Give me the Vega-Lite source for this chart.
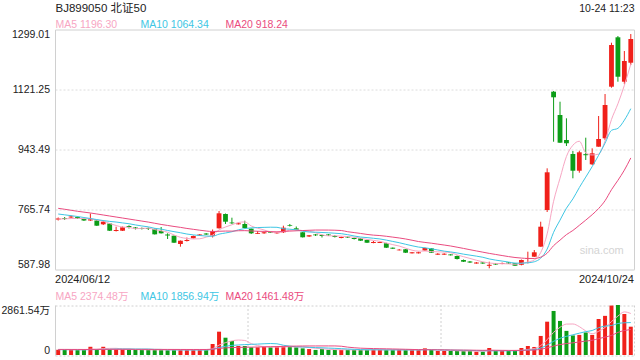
{
"$schema": "https://vega.github.io/schema/vega-lite/v6.json",
"width": 579, "height": 325.5,
"autosize": {"type": "none"},
"padding": {"left": 55, "top": 29.5, "right": 6, "bottom": 5},
"background": "#ffffff",
"config": {"view": {"stroke": null}, "font": "Liberation Sans", "axis": {"labelFont": "Liberation Sans", "titleFont": "Liberation Sans, Noto Sans CJK SC"}},
"datasets": {
"k": [
{"date":"2024/06/12","open":735.6,"high":741.6,"low":732.7,"close":738.6,"vol":300,"ma5":737.0,"ma10":751.9,"ma20":768.8,"vma5":310,"vma10":305,"vma20":320},
{"date":"2024/06/13","open":740.1,"high":743.0,"low":734.2,"close":737.1,"vol":290,"ma5":737.5,"ma10":749.5,"ma20":766.0,"vma5":310,"vma10":305,"vma20":320},
{"date":"2024/06/14","open":741.6,"high":747.5,"low":740.1,"close":744.5,"vol":300,"ma5":738.5,"ma10":747.0,"ma20":763.0,"vma5":300,"vma10":305,"vma20":318},
{"date":"2024/06/17","open":743.0,"high":744.5,"low":737.1,"close":738.6,"vol":290,"ma5":739.0,"ma10":744.5,"ma20":760.0,"vma5":300,"vma10":300,"vma20":318},
{"date":"2024/06/18","open":737.1,"high":738.6,"low":731.2,"close":732.7,"vol":300,"ma5":738.3,"ma10":741.5,"ma20":757.5,"vma5":296,"vma10":300,"vma20":316},
{"date":"2024/06/19","open":732.7,"high":753.4,"low":731.2,"close":736.2,"vol":470,"ma5":737.8,"ma10":738.5,"ma20":755.0,"vma5":330,"vma10":305,"vma20":318},
{"date":"2024/06/20","open":732.7,"high":734.2,"low":716.4,"close":717.3,"vol":320,"ma5":733.9,"ma10":735.5,"ma20":752.0,"vma5":336,"vma10":310,"vma20":320},
{"date":"2024/06/21","open":721.4,"high":732.7,"low":719.3,"close":729.1,"vol":470,"ma5":730.8,"ma10":732.5,"ma20":749.0,"vma5":370,"vma10":320,"vma20":322},
{"date":"2024/06/24","open":723.8,"high":725.3,"low":701.5,"close":702.4,"vol":330,"ma5":723.5,"ma10":730.0,"ma20":746.0,"vma5":378,"vma10":325,"vma20":324},
{"date":"2024/06/25","open":701.5,"high":714.3,"low":700.1,"close":704.5,"vol":320,"ma5":717.9,"ma10":728.1,"ma20":743.0,"vma5":382,"vma10":339,"vma20":325},
{"date":"2024/06/26","open":702.4,"high":714.9,"low":701.5,"close":712.5,"vol":320,"ma5":713.2,"ma10":725.5,"ma20":740.0,"vma5":352,"vma10":341,"vma20":326},
{"date":"2024/06/27","open":716.4,"high":718.4,"low":708.9,"close":713.4,"vol":300,"ma5":712.4,"ma10":723.1,"ma20":737.0,"vma5":348,"vma10":342,"vma20":326},
{"date":"2024/06/28","open":711.9,"high":713.4,"low":706.0,"close":708.9,"vol":290,"ma5":708.3,"ma10":719.6,"ma20":734.0,"vma5":312,"vma10":341,"vma20":325},
{"date":"2024/07/01","open":710.4,"high":711.9,"low":706.0,"close":707.5,"vol":290,"ma5":709.4,"ma10":716.5,"ma20":731.0,"vma5":304,"vma10":341,"vma20":324},
{"date":"2024/07/02","open":710.4,"high":711.9,"low":704.5,"close":707.5,"vol":290,"ma5":710.0,"ma10":713.9,"ma20":728.0,"vma5":298,"vma10":340,"vma20":323},
{"date":"2024/07/03","open":707.5,"high":708.9,"low":691.2,"close":691.7,"vol":290,"ma5":705.8,"ma10":709.5,"ma20":724.5,"vma5":292,"vma10":322,"vma20":321},
{"date":"2024/07/04","open":701.5,"high":713.4,"low":694.1,"close":694.7,"vol":290,"ma5":702.1,"ma10":707.2,"ma20":721.0,"vma5":290,"vma10":319,"vma20":320},
{"date":"2024/07/05","open":691.2,"high":694.7,"low":677.8,"close":688.2,"vol":280,"ma5":697.9,"ma10":703.1,"ma20":718.0,"vma5":288,"vma10":300,"vma20":319},
{"date":"2024/07/08","open":687.6,"high":688.2,"low":665.9,"close":666.8,"vol":290,"ma5":689.8,"ma10":699.6,"ma20":715.0,"vma5":288,"vma10":296,"vma20":318},
{"date":"2024/07/09","open":663.0,"high":673.4,"low":655.0,"close":672.8,"vol":300,"ma5":682.8,"ma10":696.4,"ma20":712.3,"vma5":290,"vma10":294,"vma20":317},
{"date":"2024/07/10","open":671.9,"high":682.3,"low":670.4,"close":674.9,"vol":290,"ma5":679.5,"ma10":692.6,"ma20":709.1,"vma5":290,"vma10":291,"vma20":316},
{"date":"2024/07/11","open":679.9,"high":688.2,"low":679.3,"close":686.7,"vol":290,"ma5":677.9,"ma10":690.0,"ma20":706.5,"vma5":290,"vma10":290,"vma20":316},
{"date":"2024/07/12","open":688.2,"high":692.6,"low":686.7,"close":691.2,"vol":290,"ma5":678.5,"ma10":688.2,"ma20":703.9,"vma5":292,"vma10":290,"vma20":316},
{"date":"2024/07/15","open":694.1,"high":695.6,"low":689.7,"close":691.2,"vol":290,"ma5":683.4,"ma10":686.6,"ma20":701.5,"vma5":292,"vma10":290,"vma20":316},
{"date":"2024/07/16","open":687.6,"high":706.0,"low":682.3,"close":701.5,"vol":630,"ma5":689.1,"ma10":686.0,"ma20":700.0,"vma5":358,"vma10":324,"vma20":332},
{"date":"2024/07/17","open":709.5,"high":760.8,"low":708.9,"close":754.0,"vol":1335,"ma5":704.9,"ma10":692.2,"ma20":700.8,"vma5":567,"vma10":429,"vma20":375},
{"date":"2024/07/18","open":751.9,"high":753.4,"low":722.3,"close":729.1,"vol":990,"ma5":713.4,"ma10":695.6,"ma20":701.4,"vma5":707,"vma10":499,"vma20":409},
{"date":"2024/07/19","open":726.7,"high":741.0,"low":722.3,"close":724.4,"vol":800,"ma5":720.0,"ma10":699.3,"ma20":701.2,"vma5":809,"vma10":551,"vma20":425},
{"date":"2024/07/22","open":721.4,"high":726.7,"low":720.8,"close":724.4,"vol":515,"ma5":726.7,"ma10":705.0,"ma20":702.3,"vma5":854,"vma10":573,"vma20":435},
{"date":"2024/07/23","open":722.3,"high":732.1,"low":708.9,"close":710.4,"vol":515,"ma5":728.5,"ma10":708.8,"ma20":702.6,"vma5":831,"vma10":595,"vma20":444},
{"date":"2024/07/24","open":708.4,"high":708.9,"low":692.6,"close":694.7,"vol":440,"ma5":716.6,"ma10":710.8,"ma20":701.7,"vma5":652,"vma10":610,"vma20":450},
{"date":"2024/07/25","open":693.2,"high":701.5,"low":692.6,"close":695.6,"vol":440,"ma5":709.9,"ma10":711.7,"ma20":700.8,"vma5":542,"vma10":625,"vma20":457},
{"date":"2024/07/26","open":694.7,"high":698.6,"low":693.2,"close":697.7,"vol":470,"ma5":704.6,"ma10":712.3,"ma20":700.3,"vma5":476,"vma10":643,"vma20":466},
{"date":"2024/07/29","open":698.6,"high":700.1,"low":695.6,"close":696.5,"vol":440,"ma5":699.0,"ma10":712.8,"ma20":699.7,"vma5":461,"vma10":658,"vma20":474},
{"date":"2024/07/30","open":694.7,"high":698.6,"low":693.2,"close":697.7,"vol":470,"ma5":696.4,"ma10":712.5,"ma20":699.2,"vma5":452,"vma10":642,"vma20":483},
{"date":"2024/07/31","open":697.7,"high":717.3,"low":695.6,"close":711.3,"vol":500,"ma5":699.8,"ma10":708.2,"ma20":700.2,"vma5":464,"vma10":558,"vma20":493},
{"date":"2024/08/01","open":718.4,"high":722.3,"low":714.9,"close":716.4,"vol":470,"ma5":703.9,"ma10":706.9,"ma20":701.3,"vma5":470,"vma10":506,"vma20":502},
{"date":"2024/08/02","open":709.5,"high":714.9,"low":703.0,"close":704.5,"vol":440,"ma5":705.3,"ma10":704.9,"ma20":702.1,"vma5":464,"vma10":470,"vma20":510},
{"date":"2024/08/05","open":697.7,"high":698.6,"low":682.3,"close":682.9,"vol":380,"ma5":702.6,"ma10":700.8,"ma20":702.9,"vma5":452,"vma10":457,"vma20":515},
{"date":"2024/08/06","open":685.2,"high":689.7,"low":683.7,"close":688.8,"vol":340,"ma5":700.8,"ma10":698.6,"ma20":703.7,"vma5":426,"vma10":439,"vma20":517},
{"date":"2024/08/07","open":691.2,"high":692.6,"low":686.7,"close":688.8,"vol":290,"ma5":696.3,"ma10":698.0,"ma20":704.4,"vma5":384,"vma10":424,"vma20":517},
{"date":"2024/08/08","open":689.7,"high":690.9,"low":682.3,"close":686.7,"vol":340,"ma5":690.3,"ma10":697.1,"ma20":704.4,"vma5":358,"vma10":414,"vma20":519},
{"date":"2024/08/09","open":691.2,"high":692.6,"low":686.7,"close":688.8,"vol":290,"ma5":687.2,"ma10":696.2,"ma20":704.3,"vma5":328,"vma10":396,"vma20":519},
{"date":"2024/08/12","open":686.7,"high":689.7,"low":682.3,"close":683.7,"vol":290,"ma5":687.4,"ma10":695.0,"ma20":703.9,"vma5":310,"vma10":381,"vma20":519},
{"date":"2024/08/13","open":680.8,"high":685.2,"low":679.9,"close":683.7,"vol":290,"ma5":686.3,"ma10":693.6,"ma20":703.0,"vma5":300,"vma10":363,"vma20":502},
{"date":"2024/08/14","open":684.6,"high":686.0,"low":680.8,"close":682.3,"vol":290,"ma5":685.0,"ma10":690.7,"ma20":699.4,"vma5":300,"vma10":342,"vma20":450},
{"date":"2024/08/15","open":680.8,"high":682.3,"low":676.3,"close":677.8,"vol":290,"ma5":683.3,"ma10":686.8,"ma20":696.9,"vma5":290,"vma10":324,"vma20":415},
{"date":"2024/08/16","open":679.9,"high":680.8,"low":671.9,"close":672.8,"vol":290,"ma5":680.1,"ma10":683.6,"ma20":694.3,"vma5":290,"vma10":309,"vma20":390},
{"date":"2024/08/19","open":674.9,"high":676.3,"low":665.9,"close":666.8,"vol":290,"ma5":676.7,"ma10":682.0,"ma20":691.4,"vma5":290,"vma10":300,"vma20":378},
{"date":"2024/08/20","open":665.9,"high":671.9,"low":665.1,"close":668.9,"vol":320,"ma5":673.7,"ma10":680.0,"ma20":689.3,"vma5":296,"vma10":298,"vma20":369},
{"date":"2024/08/21","open":666.0,"high":670.4,"low":665.9,"close":668.9,"vol":290,"ma5":671.0,"ma10":678.0,"ma20":688.0,"vma5":296,"vma10":298,"vma20":361},
{"date":"2024/08/22","open":665.1,"high":666.5,"low":651.1,"close":652.0,"vol":290,"ma5":665.9,"ma10":674.6,"ma20":685.9,"vma5":296,"vma10":293,"vma20":354},
{"date":"2024/08/23","open":652.0,"high":652.6,"low":648.2,"close":649.1,"vol":290,"ma5":661.1,"ma10":670.6,"ma20":683.4,"vma5":296,"vma10":293,"vma20":345},
{"date":"2024/08/26","open":644.3,"high":648.2,"low":643.7,"close":646.1,"vol":290,"ma5":657.0,"ma10":666.8,"ma20":680.9,"vma5":296,"vma10":293,"vma20":337},
{"date":"2024/08/27","open":647.3,"high":648.2,"low":636.3,"close":637.2,"vol":290,"ma5":650.7,"ma10":662.2,"ma20":677.9,"vma5":290,"vma10":293,"vma20":328},
{"date":"2024/08/28","open":635.4,"high":639.3,"low":634.8,"close":638.4,"vol":290,"ma5":644.6,"ma10":657.8,"ma20":674.2,"vma5":290,"vma10":293,"vma20":318},
{"date":"2024/08/29","open":635.4,"high":640.2,"low":634.8,"close":638.4,"vol":290,"ma5":641.8,"ma10":653.9,"ma20":670.3,"vma5":290,"vma10":293,"vma20":309},
{"date":"2024/08/30","open":643.7,"high":652.6,"low":642.2,"close":651.1,"vol":380,"ma5":642.2,"ma10":651.7,"ma20":667.7,"vma5":308,"vma10":302,"vma20":306},
{"date":"2024/09/02","open":650.2,"high":651.1,"low":636.3,"close":637.2,"vol":290,"ma5":640.5,"ma10":648.7,"ma20":665.4,"vma5":308,"vma10":302,"vma20":301},
{"date":"2024/09/03","open":631.4,"high":636.0,"low":630.5,"close":634.2,"vol":230,"ma5":639.9,"ma10":645.3,"ma20":662.6,"vma5":296,"vma10":293,"vma20":296},
{"date":"2024/09/04","open":631.4,"high":635.5,"low":630.5,"close":634.2,"vol":230,"ma5":639.0,"ma10":641.8,"ma20":659.9,"vma5":284,"vma10":287,"vma20":293},
{"date":"2024/09/05","open":632.0,"high":633.0,"low":628.9,"close":629.5,"vol":230,"ma5":637.2,"ma10":639.5,"ma20":657.1,"vma5":272,"vma10":281,"vma20":287},
{"date":"2024/09/06","open":627.4,"high":628.9,"low":617.0,"close":618.5,"vol":230,"ma5":630.7,"ma10":636.5,"ma20":653.5,"vma5":242,"vma10":275,"vma20":284},
{"date":"2024/09/09","open":615.5,"high":617.0,"low":609.6,"close":610.5,"vol":230,"ma5":625.4,"ma10":632.9,"ma20":649.9,"vma5":230,"vma10":269,"vma20":281},
{"date":"2024/09/10","open":611.1,"high":612.6,"low":606.7,"close":608.1,"vol":230,"ma5":620.2,"ma10":630.0,"ma20":646.1,"vma5":230,"vma10":263,"vma20":278},
{"date":"2024/09/11","open":605.1,"high":609.6,"low":604.6,"close":608.1,"vol":190,"ma5":614.9,"ma10":627.0,"ma20":642.4,"vma5":222,"vma10":253,"vma20":273},
{"date":"2024/09/12","open":608.1,"high":609.6,"low":603.7,"close":605.2,"vol":190,"ma5":610.1,"ma10":623.7,"ma20":638.8,"vma5":214,"vma10":243,"vma20":268},
{"date":"2024/09/13","open":598.3,"high":610.5,"low":590.9,"close":601.3,"vol":400,"ma5":606.6,"ma10":618.7,"ma20":635.2,"vma5":248,"vma10":245,"vma20":274},
{"date":"2024/09/18","open":605.2,"high":606.7,"low":600.7,"close":602.2,"vol":230,"ma5":605.0,"ma10":615.2,"ma20":632.0,"vma5":248,"vma10":239,"vma20":271},
{"date":"2024/09/19","open":603.7,"high":608.1,"low":603.0,"close":606.7,"vol":230,"ma5":604.7,"ma10":612.4,"ma20":628.8,"vma5":248,"vma10":239,"vma20":266},
{"date":"2024/09/20","open":608.1,"high":609.6,"low":603.7,"close":605.2,"vol":230,"ma5":604.1,"ma10":609.5,"ma20":625.7,"vma5":256,"vma10":239,"vma20":263},
{"date":"2024/09/23","open":606.1,"high":606.7,"low":597.8,"close":598.6,"vol":230,"ma5":602.8,"ma10":606.4,"ma20":623.0,"vma5":264,"vma10":239,"vma20":260},
{"date":"2024/09/24","open":601.3,"high":617.0,"low":599.8,"close":615.5,"vol":400,"ma5":605.6,"ma10":606.1,"ma20":621.3,"vma5":264,"vma10":256,"vma20":266},
{"date":"2024/09/25","open":618.5,"high":640.2,"low":605.5,"close":621.5,"vol":515,"ma5":609.5,"ma10":607.2,"ma20":620.1,"vma5":321,"vma10":285,"vma20":277},
{"date":"2024/09/26","open":625.3,"high":645.2,"low":624.4,"close":638.4,"vol":460,"ma5":615.8,"ma10":610.3,"ma20":620.1,"vma5":367,"vma10":308,"vma20":285},
{"date":"2024/09/27","open":655.0,"high":729.1,"low":655.0,"close":714.3,"vol":1090,"ma5":637.7,"ma10":620.9,"ma20":623.9,"vma5":539,"vma10":398,"vma20":325},
{"date":"2024/09/30","open":763.8,"high":887.4,"low":757.9,"close":875.6,"vol":1907,"ma5":693.1,"ma10":647.9,"ma20":635.8,"vma5":874,"vma10":569,"vma20":406},
{"date":"2024/10/08","open":1114.6,"high":1116.6,"low":966.3,"close":1098.0,"vol":2520,"ma5":789.6,"ma10":697.6,"ma20":658.1,"vma5":1298,"vma10":781,"vma20":513},
{"date":"2024/10/09","open":1045.5,"high":1084.9,"low":962.5,"close":963.3,"vol":1950,"ma5":857.9,"ma10":733.7,"ma20":674.4,"vma5":1585,"vma10":953,"vma20":596},
{"date":"2024/10/10","open":971.4,"high":1035.7,"low":953.6,"close":961.6,"vol":1380,"ma5":922.6,"ma10":769.2,"ma20":690.8,"vma5":1769,"vma10":1068,"vma20":654},
{"date":"2024/10/11","open":929.8,"high":938.7,"low":857.8,"close":880.3,"vol":1120,"ma5":955.8,"ma10":796.7,"ma20":703.1,"vma5":1775,"vma10":1157,"vma20":698},
{"date":"2024/10/14","open":880.3,"high":939.6,"low":874.4,"close":934.9,"vol":1150,"ma5":967.6,"ma10":830.3,"ma20":718.4,"vma5":1624,"vma10":1249,"vma20":744},
{"date":"2024/10/15","open":929.3,"high":978.2,"low":912.1,"close":926.3,"vol":1290,"ma5":933.3,"ma10":861.4,"ma20":733.8,"vma5":1378,"vma10":1338,"vma20":797},
{"date":"2024/10/16","open":899.3,"high":946.7,"low":897.2,"close":931.9,"vol":1150,"ma5":927.0,"ma10":892.5,"ma20":749.9,"vma5":1218,"vma10":1402,"vma20":843},
{"date":"2024/10/17","open":951.5,"high":1042.5,"low":951.5,"close":974.3,"vol":2060,"ma5":929.5,"ma10":926.1,"ma20":768.2,"vma5":1354,"vma10":1562,"vma20":935},
{"date":"2024/10/18","open":976.4,"high":1107.7,"low":971.4,"close":1075.1,"vol":2240,"ma5":968.5,"ma10":962.1,"ma20":791.5,"vma5":1578,"vma10":1653,"vma20":1025},
{"date":"2024/10/21","open":1129.4,"high":1259.8,"low":1126.4,"close":1253.0,"vol":2830,"ma5":1032.1,"ma10":999.9,"ma20":823.9,"vma5":1914,"vma10":1686,"vma20":1119},
{"date":"2024/10/22","open":1275.9,"high":1279.7,"low":1144.2,"close":1159.0,"vol":2861.54,"ma5":1078.7,"ma10":1006.0,"ma20":851.8,"vma5":2228,"vma10":1803,"vma20":1292},
{"date":"2024/10/23","open":1144.2,"high":1235.2,"low":1137.4,"close":1205.6,"vol":2345,"ma5":1133.4,"ma10":1030.2,"ma20":882.0,"vma5":2467,"vma10":1843,"vma20":1398},
{"date":"2024/10/24","open":1200.5,"high":1285.6,"low":1193.7,"close":1270.8,"vol":1620,"ma5":1196.3,"ma10":1064.3,"ma20":918.2,"vma5":2374.48,"vma10":1856.94,"vma20":1461.48}
],
"vgrid": [{"date":"2024/07/24"},{"date":"2024/09/04"}]
},
"data": {"name": "k"},
"layer": [
{
"mark": {"type": "rule", "strokeWidth": 1},
"encoding": {
"x": {"field": "date", "type": "ordinal", "scale": {"type": "band", "paddingInner": 0, "paddingOuter": 0},
 "axis": {"orient": "top", "labels": false, "ticks": false, "domain": false, "grid": false, "title": "BJ899050 北证50", "titleX": 0, "titleY": -18, "titleAlign": "left", "titleBaseline": "alphabetic", "titleColor": "#222222", "titleFontSize": 11.5, "titleFontWeight": "normal", "titleFont": "Liberation Sans, Noto Sans CJK SC"}},
"y": {"field": "low", "type": "quantitative", "scale": {"domain": [587.98, 1299.01], "range": [239.8, 0], "zero": false, "nice": false},
 "axis": {"orient": "right", "labels": false, "ticks": false, "grid": false, "domain": true, "domainColor": "#d0d0d0", "title": null}},
"y2": {"field": "high"},
"color": {"condition": {"test": "datum.close >= datum.open", "value": "#f0201a"}, "value": "#0c9d17"}
}
},
{
"mark": {"type": "bar", "width": {"band": 0.75}},
"encoding": {
"x": {"field": "date", "type": "ordinal", "scale": {"type": "band", "paddingInner": 0, "paddingOuter": 0},
 "axis": {"orient": "bottom", "offset": -85.7, "values": ["2024/06/12", "2024/10/24"], "ticks": false, "tickSize": 0, "domain": false, "grid": false, "labelAngle": 0, "labelFlush": 10, "labelPadding": 4, "labelBaseline": "top", "labelOffset": {"condition": {"test": "datum.value == '2024/06/12'", "value": -3.2}, "value": 3.2}, "title": null, "labelFontSize": 11, "labelColor": "#222222"}},
"y": {"field": "open", "type": "quantitative", "scale": {"domain": [587.98, 1299.01], "range": [239.8, 0], "zero": false, "nice": false},
 "axis": {"orient": "left", "values": [587.98, 765.74, 943.49, 1121.25, 1299.01], "format": ".2f", "labelFlush": true, "ticks": false, "tickSize": 0, "labelPadding": 5.5, "domain": true, "domainColor": "#d0d0d0", "grid": true,
  "gridColor": {"condition": {"test": "datum.value > 600 && datum.value < 1290", "value": "#dcdcdc"}, "value": "#d0d0d0"},
  "gridDash": {"condition": {"test": "datum.value > 600 && datum.value < 1290", "value": [2, 2]}, "value": []},
  "title": null, "labelFontSize": 10.5, "labelColor": "#222222"}},
"y2": {"field": "close"},
"color": {"condition": {"test": "datum.close >= datum.open", "value": "#f0201a"}, "value": "#0c9d17"}
}
},
{
"mark": {"type": "line", "strokeWidth": 1, "interpolate": "monotone", "color": "#f7a6c3"},
"encoding": {
"x": {"field": "date", "type": "ordinal", "scale": {"type": "band", "paddingInner": 0, "paddingOuter": 0},
 "axis": {"orient": "top", "labels": false, "ticks": false, "domain": false, "grid": false, "title": "MA5 1196.30", "titleX": 0, "titleY": -2.2, "titleAlign": "left", "titleBaseline": "alphabetic", "titleColor": "#f7a6c3", "titleFontSize": 10.5, "titleFontWeight": "normal"}},
"y": {"field": "ma5", "type": "quantitative", "scale": {"domain": [587.98, 1299.01], "range": [239.8, 0], "zero": false, "nice": false}, "axis": null}
}
},
{
"mark": {"type": "line", "strokeWidth": 1, "interpolate": "monotone", "color": "#3ec6e4"},
"encoding": {
"x": {"field": "date", "type": "ordinal", "scale": {"type": "band", "paddingInner": 0, "paddingOuter": 0},
 "axis": {"orient": "top", "labels": false, "ticks": false, "domain": false, "grid": false, "title": "MA10 1064.34", "titleX": 85, "titleY": -2.2, "titleAlign": "left", "titleBaseline": "alphabetic", "titleColor": "#3ec6e4", "titleFontSize": 10.5, "titleFontWeight": "normal"}},
"y": {"field": "ma10", "type": "quantitative", "scale": {"domain": [587.98, 1299.01], "range": [239.8, 0], "zero": false, "nice": false}, "axis": null}
}
},
{
"mark": {"type": "line", "strokeWidth": 1, "interpolate": "monotone", "color": "#ea4b80"},
"encoding": {
"x": {"field": "date", "type": "ordinal", "scale": {"type": "band", "paddingInner": 0, "paddingOuter": 0},
 "axis": {"orient": "top", "labels": false, "ticks": false, "domain": false, "grid": false, "title": "MA20 918.24", "titleX": 170, "titleY": -2.2, "titleAlign": "left", "titleBaseline": "alphabetic", "titleColor": "#ea4b80", "titleFontSize": 10.5, "titleFontWeight": "normal"}},
"y": {"field": "ma20", "type": "quantitative", "scale": {"domain": [587.98, 1299.01], "range": [239.8, 0], "zero": false, "nice": false}, "axis": null}
}
},
{
"data": {"name": "vgrid"},
"mark": {"type": "rule", "strokeWidth": 1, "strokeDash": [2, 2], "color": "#d0d0d0"},
"encoding": {
"x": {"field": "date", "type": "ordinal", "bandPosition": 0, "scale": {"type": "band", "paddingInner": 0, "paddingOuter": 0},
 "axis": {"orient": "top", "labels": false, "ticks": false, "domain": false, "grid": false, "title": "sina.com", "titleX": 568.3, "titleY": 223.5, "titleAlign": "right", "titleBaseline": "alphabetic", "titleColor": "#d4d4d4", "titleFontSize": 11, "titleFontWeight": "normal"}},
"y": {"datum": 0, "type": "quantitative", "scale": {"domain": [0, 2861.54], "range": [325.5, 275.5], "nice": false}, "axis": null},
"y2": {"datum": 2861.54}
}
},
{
"mark": {"type": "bar", "width": {"band": 0.62}},
"encoding": {
"x": {"field": "date", "type": "ordinal", "scale": {"type": "band", "paddingInner": 0, "paddingOuter": 0},
 "axis": {"orient": "top", "labels": false, "ticks": false, "domain": false, "grid": false, "title": "10-24 11:23", "titleX": 579, "titleY": -18.5, "titleAlign": "right", "titleBaseline": "alphabetic", "titleColor": "#222222", "titleFontSize": 10.5, "titleFontWeight": "normal"}},
"y": {"field": "vol", "type": "quantitative", "scale": {"domain": [0, 2861.54], "range": [325.5, 275.5], "nice": false},
 "axis": {"orient": "left", "values": [0, 2861.54], "labelExpr": "datum.value == 0 ? '0' : format(datum.value, '.2f') + '万'", "labelFlush": true, "ticks": false, "tickSize": 0, "labelPadding": 5.5, "domain": true, "domainColor": "#d0d0d0", "grid": true, "gridColor": "#d0d0d0", "gridDash": [2, 2], "title": null, "labelFontSize": 10.5, "labelColor": "#222222", "labelFont": "Liberation Sans, Noto Sans CJK SC"}},
"color": {"condition": {"test": "datum.close >= datum.open", "value": "#f0201a"}, "value": "#0c9d17"}
}
},
{
"mark": {"type": "line", "strokeWidth": 1, "interpolate": "monotone", "color": "#f7a6c3"},
"encoding": {
"x": {"field": "date", "type": "ordinal", "scale": {"type": "band", "paddingInner": 0, "paddingOuter": 0},
 "axis": {"orient": "top", "labels": false, "ticks": false, "domain": false, "grid": false, "title": "MA5 2374.48万", "titleX": 0, "titleY": 269.5, "titleAlign": "left", "titleBaseline": "alphabetic", "titleColor": "#f7a6c3", "titleFontSize": 10.5, "titleFontWeight": "normal", "titleFont": "Liberation Sans, Noto Sans CJK SC"}},
"y": {"field": "vma5", "type": "quantitative", "scale": {"domain": [0, 2861.54], "range": [325.5, 275.5], "nice": false}, "axis": null}
}
},
{
"mark": {"type": "line", "strokeWidth": 1, "interpolate": "monotone", "color": "#3ec6e4"},
"encoding": {
"x": {"field": "date", "type": "ordinal", "scale": {"type": "band", "paddingInner": 0, "paddingOuter": 0},
 "axis": {"orient": "top", "labels": false, "ticks": false, "domain": false, "grid": false, "title": "MA10 1856.94万", "titleX": 85, "titleY": 269.5, "titleAlign": "left", "titleBaseline": "alphabetic", "titleColor": "#3ec6e4", "titleFontSize": 10.5, "titleFontWeight": "normal", "titleFont": "Liberation Sans, Noto Sans CJK SC"}},
"y": {"field": "vma10", "type": "quantitative", "scale": {"domain": [0, 2861.54], "range": [325.5, 275.5], "nice": false}, "axis": null}
}
},
{
"mark": {"type": "line", "strokeWidth": 1, "interpolate": "monotone", "color": "#ea4b80"},
"encoding": {
"x": {"field": "date", "type": "ordinal", "scale": {"type": "band", "paddingInner": 0, "paddingOuter": 0},
 "axis": {"orient": "top", "labels": false, "ticks": false, "domain": false, "grid": false, "title": "MA20 1461.48万", "titleX": 170, "titleY": 269.5, "titleAlign": "left", "titleBaseline": "alphabetic", "titleColor": "#ea4b80", "titleFontSize": 10.5, "titleFontWeight": "normal", "titleFont": "Liberation Sans, Noto Sans CJK SC"}},
"y": {"field": "vma20", "type": "quantitative", "scale": {"domain": [0, 2861.54], "range": [325.5, 275.5], "nice": false},
 "axis": {"orient": "right", "labels": false, "ticks": false, "grid": false, "domain": true, "domainColor": "#d0d0d0", "domainDash": [2, 2], "title": null}}
}
}
],
"resolve": {"scale": {"y": "independent"}, "axis": {"x": "independent", "y": "independent"}}
}
